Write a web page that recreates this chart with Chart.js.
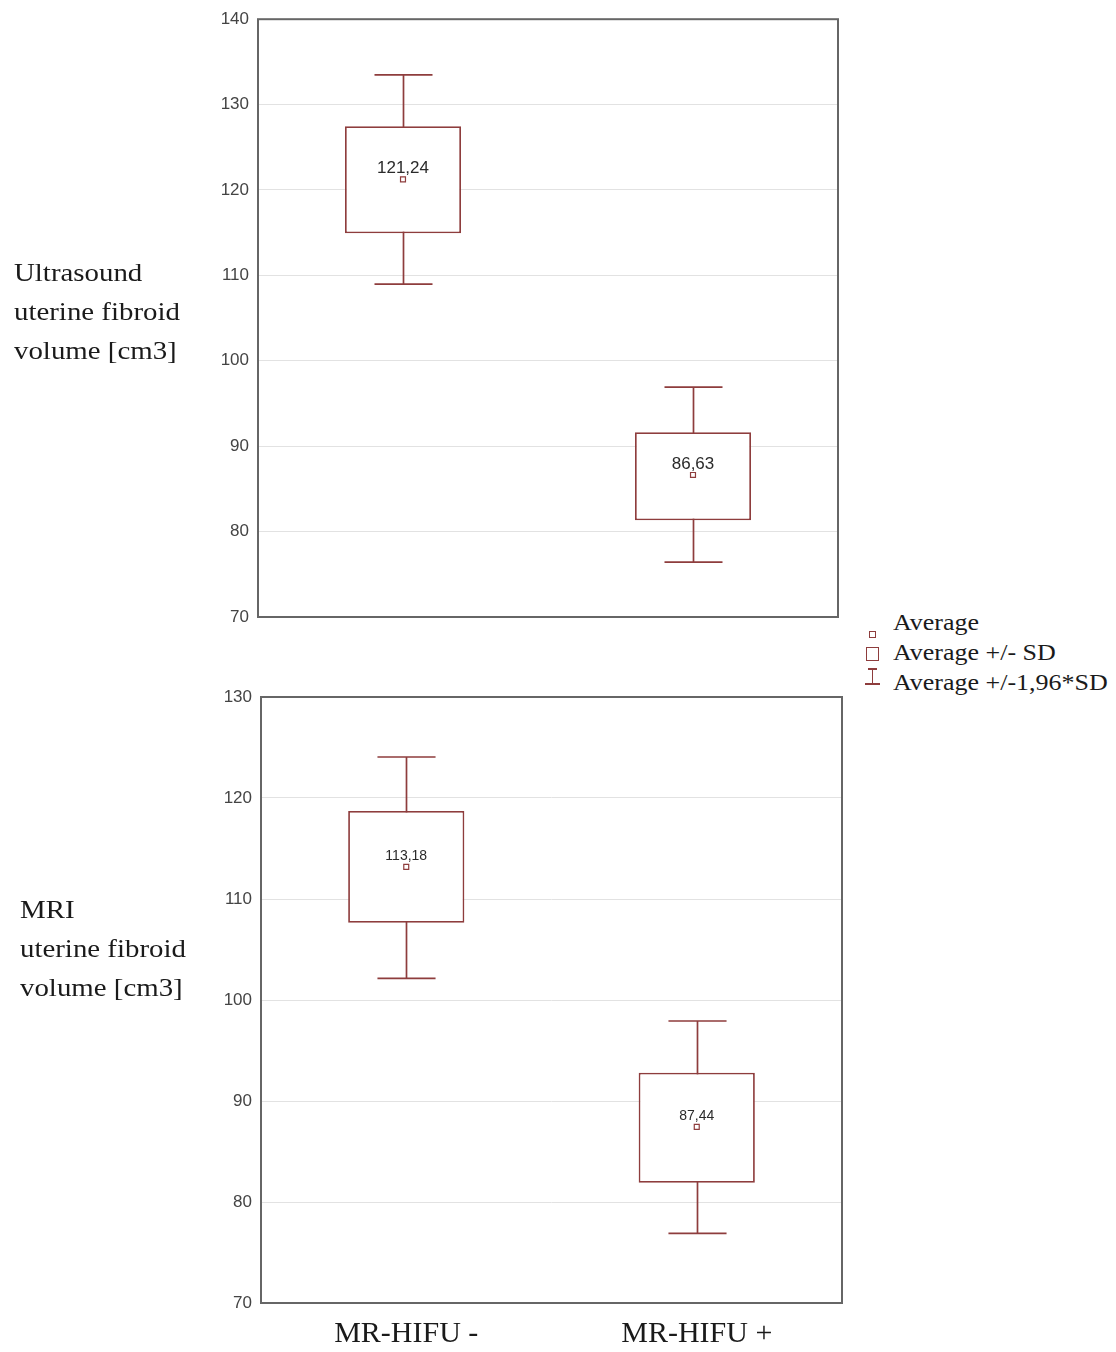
<!DOCTYPE html>
<html><head><meta charset="utf-8">
<script src="https://cdn.jsdelivr.net/npm/chart.js@4/dist/chart.umd.min.js"></script>
<style>
body{margin:0;background:#fff;width:1116px;height:1352px;position:relative;overflow:hidden;}
canvas{position:absolute;left:0;}
#c1{top:0;}
#c2{top:640px;}
.yt{position:absolute;font-family:"Liberation Serif",serif;font-size:26px;line-height:39px;color:#1a1a1a;white-space:nowrap;transform-origin:0 0;transform:scaleX(1.11);}
.lg{position:absolute;left:893px;font-family:"Liberation Serif",serif;font-size:23px;line-height:30px;color:#1a1a1a;white-space:nowrap;transform-origin:0 0;transform:scaleX(1.13);}
.sym{position:absolute;box-sizing:border-box;}
</style></head>
<body>
<canvas id="c1" width="860" height="640"></canvas>
<canvas id="c2" width="860" height="712"></canvas>
<div class="yt" style="left:14px;top:253px;">Ultrasound<br>uterine fibroid<br>volume [cm3]</div>
<div class="yt" style="left:20px;top:890px;">MRI<br>uterine fibroid<br>volume [cm3]</div>
<div class="lg" style="top:608px;">Average</div>
<div class="lg" style="top:638px;">Average +/- SD</div>
<div class="lg" style="top:668px;">Average +/-1,96*SD</div>
<div class="sym" style="left:869px;top:631px;width:7px;height:7px;border:1.2px solid #8e3d3d;"></div>
<div class="sym" style="left:866px;top:647px;width:13px;height:14px;border:1.6px solid #8e3d3d;"></div>
<div class="sym" style="left:871.5px;top:668px;width:1.6px;height:16px;background:#8e3d3d;"></div>
<div class="sym" style="left:868px;top:668px;width:9px;height:1.6px;background:#8e3d3d;"></div>
<div class="sym" style="left:865px;top:683px;width:15px;height:1.6px;background:#8e3d3d;"></div>
<script>
const categories = ['MR-HIFU -', 'MR-HIFU +'];

// Ultrasound panel
const usMean = [121.24, 86.63];
const usMeanLabels = ['121,24', '86,63'];
const usSdLow = [114.94, 81.33];
const usSdHigh = [127.47, 91.64];
const usCiLow = [108.97, 76.42];
const usCiHigh = [133.47, 96.91];
const usTicks = [70, 80, 90, 100, 110, 120, 130, 140];

// MRI panel
const mriMean = [113.18, 87.44];
const mriMeanLabels = ['113,18', '87,44'];
const mriSdLow = [107.65, 81.90];
const mriSdHigh = [118.71, 92.80];
const mriCiLow = [102.14, 76.90];
const mriCiHigh = [124.06, 97.92];
const mriTicks = [70, 80, 90, 100, 110, 120, 130];

const RED = '#8e3d3d';

const whiskerPlugin = {
  id: 'whiskers',
  beforeDatasetsDraw(chart, args, opts) {
    const x = chart.scales.x, y = chart.scales.y, ctx = chart.ctx;
    const catW = x.getPixelForValue(1) - x.getPixelForValue(0);
    const half = catW * 0.1;
    ctx.save();
    ctx.strokeStyle = RED;
    ctx.lineWidth = 1.7;
    opts.low.forEach((lo, i) => {
      const cx = Math.round(x.getPixelForValue(i)) + 0.5;
      const yl = y.getPixelForValue(lo), yh = y.getPixelForValue(opts.high[i]);
      ctx.beginPath();
      ctx.moveTo(cx, yl); ctx.lineTo(cx, yh);
      ctx.moveTo(cx - half, yl); ctx.lineTo(cx + half, yl);
      ctx.moveTo(cx - half, yh); ctx.lineTo(cx + half, yh);
      ctx.stroke();
    });
    ctx.restore();
  },
  afterDatasetsDraw(chart, args, opts) {
    const x = chart.scales.x, y = chart.scales.y, ctx = chart.ctx;
    ctx.save();
    ctx.fillStyle = '#2a2a2a';
    ctx.font = opts.fontSize + 'px "Liberation Sans", Arial, sans-serif';
    ctx.textAlign = 'center';
    ctx.textBaseline = 'middle';
    opts.means.forEach((m, i) => {
      ctx.fillText(opts.labels[i], x.getPixelForValue(i), y.getPixelForValue(m) - 11);
    });
    ctx.restore();
  },
  afterDraw(chart) {
    const a = chart.chartArea, ctx = chart.ctx;
    ctx.save();
    ctx.strokeStyle = '#666';
    ctx.lineWidth = 2;
    ctx.strokeRect(a.left, a.top, a.right - a.left, a.bottom - a.top);
    ctx.restore();
  }
};

function makeChart(id, mean, labels, sdLow, sdHigh, ciLow, ciHigh, ticks, yWidth, padding, showX, labelSize) {
  return new Chart(document.getElementById(id), {
    data: {
      labels: categories,
      datasets: [
        {
          type: 'line',
          data: mean,
          showLine: false,
          pointStyle: 'rect',
          pointRadius: 3.5,
          pointBorderWidth: 1.2,
          borderColor: RED,
          backgroundColor: '#fff',
          order: 0
        },
        {
          type: 'bar',
          data: sdLow.map((v, i) => [v, sdHigh[i]]),
          backgroundColor: '#fff',
          borderColor: RED,
          borderWidth: 1.8,
          borderSkipped: false,
          barPercentage: 0.4,
          categoryPercentage: 1,
          order: 1
        }
      ]
    },
    options: {
      responsive: false,
      animation: false,
      events: [],
      layout: { autoPadding: false, padding: padding },
      plugins: {
        legend: { display: false },
        tooltip: { enabled: false },
        whiskers: { low: ciLow, high: ciHigh, means: mean, labels: labels, fontSize: labelSize }
      },
      scales: {
        x: {
          display: showX,
          offset: true,
          grid: { display: false, drawTicks: false },
          border: { display: false },
          ticks: { color: '#1a1a1a', padding: 13, font: { family: '"Liberation Serif", serif', size: 30 } },
          afterFit: s => { s.height = showX ? 45 : 0; }
        },
        y: {
          min: ticks[0],
          max: ticks[ticks.length - 1],
          afterBuildTicks: s => { s.ticks = ticks.map(v => ({ value: v })); },
          grid: { color: '#e2e2e2', drawTicks: false, lineWidth: 1 },
          border: { display: false },
          ticks: { color: '#444', padding: 9, font: { family: '"Liberation Sans", Arial, sans-serif', size: 17 } },
          afterFit: s => { s.width = yWidth; }
        }
      }
    },
    plugins: [whiskerPlugin]
  });
}

makeChart('c1', usMean, usMeanLabels, usSdLow, usSdHigh, usCiLow, usCiHigh, usTicks, 258,
  { top: 19, right: 22, bottom: 23, left: 0 }, false, 17);
makeChart('c2', mriMean, mriMeanLabels, mriSdLow, mriSdHigh, mriCiLow, mriCiHigh, mriTicks, 261,
  { top: 57, right: 18, bottom: 4, left: 0 }, true, 14);
</script>
</body></html>
